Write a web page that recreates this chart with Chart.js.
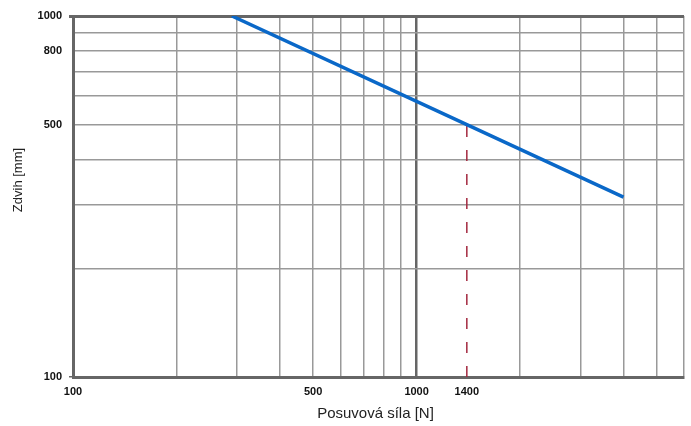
<!DOCTYPE html>
<html lang="cs">
<head>
    <meta charset="UTF-8">
    <title>Zdvih vs. posuvová síla</title>
    <script src="https://cdn.jsdelivr.net/npm/chart.js"></script>
    <style>
        html, body { margin: 0; padding: 0; background: #fff; }
        .chart-box { width: 691px; height: 426px; }
    </style>
</head>
<body>
    <div class="chart-box">
        <canvas id="zdvihChart"></canvas>
    </div>
    <script>
        // Hodnoty
        const silaN = [290, 1400, 4000];       // posuvová síla [N]
        const zdvihMm = [1000, 500, 315];      // zdvih [mm]
        const odecetSila = [1400, 1400];       // čárkovaná odečtová čára
        const odecetZdvih = [100, 500];

        const xMrizka = [100, 200, 300, 400, 500, 600, 700, 800, 900, 1000, 2000, 3000, 4000, 5000, 6000];
        const xPopisky = [100, 500, 1000, 1400];
        const yMrizka = [100, 200, 300, 400, 500, 600, 700, 800, 900, 1000];
        const yPopisky = [100, 500, 800, 1000];

        const pismo = '"Liberation Sans", Arial, sans-serif';

        // popisky os (y titulek je posunutý nahoru oproti středu osy)
        const popiskyOs = {
            id: 'popiskyOs',
            afterDraw(chart) {
                const { ctx, chartArea } = chart;
                ctx.save();
                ctx.fillStyle = '#222';
                ctx.textAlign = 'center';
                ctx.textBaseline = 'middle';
                ctx.font = '15px ' + pismo;
                ctx.fillText('Posuvová síla [N]', (chartArea.left + chartArea.right) / 2 - 3, chartArea.bottom + 37);
                ctx.translate(18, chartArea.top + 164);
                ctx.rotate(-Math.PI / 2);
                ctx.font = '13px ' + pismo;
                ctx.fillText('Zdvih [mm]', 0, 0);
                ctx.restore();
            }
        };

        const body = (xs, ys) => xs.map((x, i) => ({ x, y: ys[i] }));

        new Chart(document.getElementById('zdvihChart'), {
            type: 'line',
            data: {
                datasets: [{
                    data: body(silaN, zdvihMm),
                    borderColor: '#0a68c8',
                    borderWidth: 3.5,
                    pointRadius: 0,
                    fill: false
                }, {
                    data: body(odecetSila, odecetZdvih),
                    borderColor: '#a3283f',
                    borderWidth: 1.5,
                    borderDash: [11, 13],
                    pointRadius: 0,
                    fill: false
                }]
            },
            options: {
                responsive: true,
                maintainAspectRatio: false,
                animation: false,
                layout: { padding: { top: 16, right: 7, left: 0, bottom: 0 } },
                plugins: { legend: { display: false }, tooltip: { enabled: false } },
                scales: {
                    x: {
                        type: 'logarithmic',
                        min: 100,
                        max: 6000,
                        afterBuildTicks: (s) => { s.ticks = [...xMrizka, 1400].sort((a, b) => a - b).map(v => ({ value: v })); },
                        afterFit: (s) => { s.height = 49; },
                        ticks: {
                            autoSkip: false,
                            maxRotation: 0,
                            padding: 4,
                            color: '#111',
                            font: { family: pismo, size: 11, weight: 'bold' },
                            callback: (v) => xPopisky.includes(v) ? String(v) : ''
                        },
                        grid: {
                            color: (c) => !c.tick ? '#999' : c.tick.value === 1400 ? 'rgba(0,0,0,0)' : c.tick.value === 1000 ? '#666' : '#999',
                            lineWidth: (c) => c.tick && c.tick.value === 1000 ? 2.5 : 1.5,
                            tickLength: 4,
                            tickColor: 'rgba(0,0,0,0)'
                        },
                        border: { color: '#666', width: 3 }
                    },
                    y: {
                        type: 'logarithmic',
                        min: 100,
                        max: 1000,
                        afterBuildTicks: (s) => { s.ticks = yMrizka.map(v => ({ value: v })); },
                        afterFit: (s) => { s.width = 73; },
                        ticks: {
                            autoSkip: false,
                            padding: 7,
                            color: '#111',
                            font: { family: pismo, size: 11, weight: 'bold' },
                            callback: (v) => yPopisky.includes(v) ? String(v) : ''
                        },
                        grid: {
                            color: (c) => c.tick && c.tick.value === 1000 ? '#666' : '#999',
                            lineWidth: (c) => c.tick && c.tick.value === 1000 ? 3 : 1.5,
                            tickLength: 4,
                            tickColor: (c) => c.tick && (c.tick.value === 100 || c.tick.value === 1000) ? '#666' : 'rgba(0,0,0,0)'
                        },
                        border: { color: '#666', width: 3 }
                    }
                }
            },
            plugins: [popiskyOs]
        });
    </script>
</body>
</html>
